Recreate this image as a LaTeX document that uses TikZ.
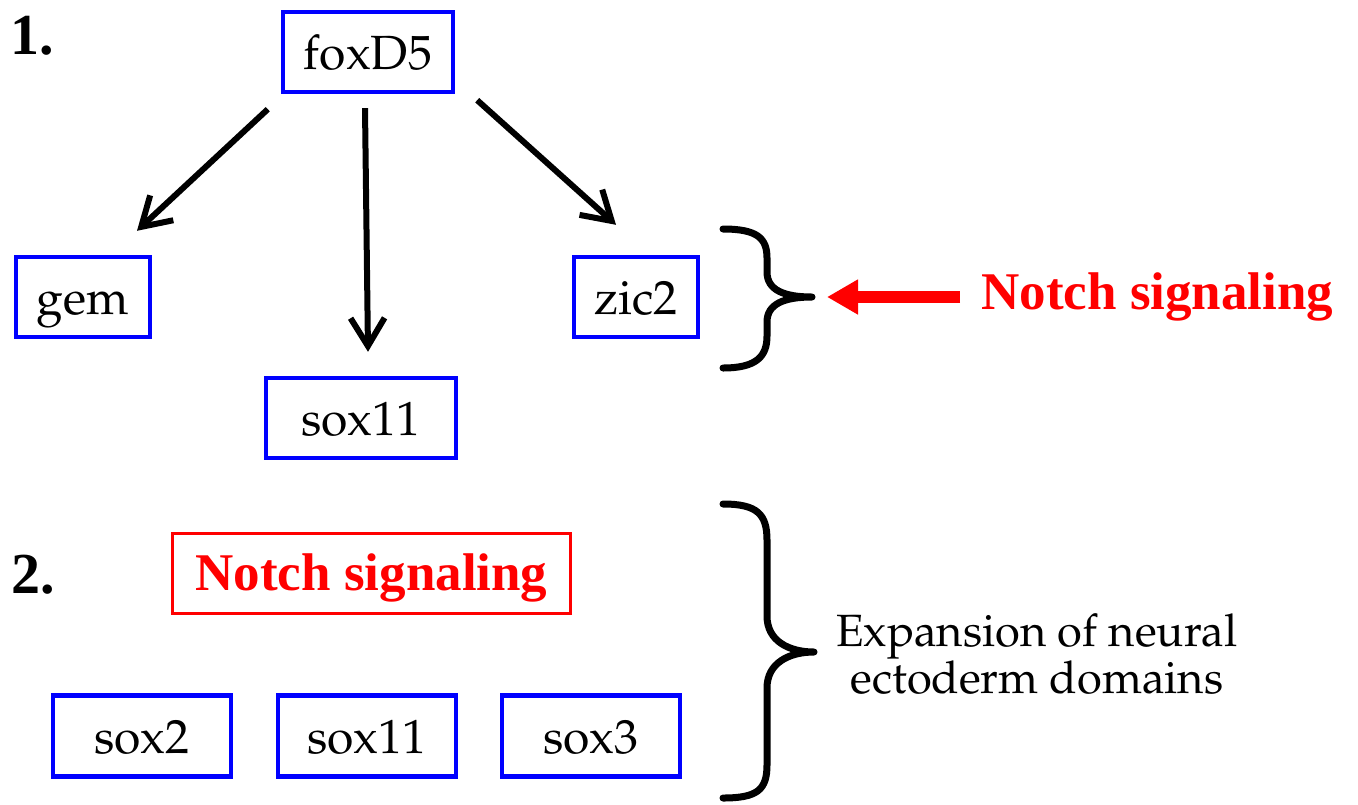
\documentclass[tikz,border=0pt]{standalone}
\usepackage[T1]{fontenc}
\usepackage{fontspec}
\usetikzlibrary{arrows.meta}
\newfontfamily\timesfont{Liberation Serif}
\newcommand\palfont{\fontencoding{T1}\fontfamily{ppl}\selectfont}
\definecolor{geneblue}{RGB}{0,0,255}
\definecolor{notchred}{RGB}{255,0,0}
\tikzset{
  gene/.style={draw=geneblue, line width=2.2pt, inner sep=0pt,
    text height=18pt, text depth=1pt,
    font=\palfont\fontsize{24}{28}\selectfont},
  notchbox/.style={draw=notchred, line width=1.6pt, inner sep=0pt, text=notchred,
    text height=18pt, text depth=1.5pt,
    font=\timesfont\bfseries\fontsize{26.5}{30}\selectfont},
  notchtext/.style={inner sep=0pt, text=notchred,
    font=\timesfont\bfseries\fontsize{26.5}{30}\selectfont},
  steplabel/.style={inner sep=0pt, font=\timesfont\bfseries\fontsize{29}{32}\selectfont},
  note/.style={inner sep=0pt, align=center, font=\palfont\fontsize{22.6}{23.5}\selectfont},
  regarrow/.style={line width=3pt, -{Straight Barb[length=14pt,width=17pt]}},
  notcharrow/.style={draw=notchred, line width=6pt, -{Triangle[length=15.5pt,width=16.5pt]}},
  curly/.style={line width=3.5pt, line cap=round, line join=round}
}
\begin{document}
\begin{tikzpicture}[x=0.5pt,y=-0.5pt]
  \useasboundingbox (0,0) rectangle (1358,804);

  % step 1: foxD5 and its targets
  \node[steplabel] (one) at (32,36) {1.};
  \node[gene, minimum width=85pt, minimum height=40pt] (fox) at (368,52) {foxD5};
  \node[gene, minimum width=67pt, minimum height=40pt] (gem) at (83,297) {gem};
  \node[gene, minimum width=62pt, minimum height=40pt] (zic) at (636,297) {zic2};
  \node[gene, minimum width=95pt, minimum height=40pt] (soxa) at (361,418) {sox11};

  \draw[regarrow] ([shift={(-13,15)}]fox.south west) -- ([shift={(54,-24)}]gem.north);
  \draw[regarrow] ([shift={(-3,14)}]fox.south) -- ([shift={(7,-24)}]soxa.north);
  \draw[regarrow] ([shift={(22,6)}]fox.south east) -- ([shift={(-20,-30)}]zic.north);

  % brace next to zic2 and the Notch input
  \coordinate (tipA) at (812,297);
  \draw[curly] (723,229) .. controls (757,229) and (767,238) .. (767,258) -- (767,272)
    .. controls (767,290) and (784,297) .. (tipA)
    .. controls (784,297) and (767,304) .. (767,322) -- (767,336)
    .. controls (767,356) and (757,368) .. (723,368);
  \node[notchtext, anchor=west] (notchA) at (981,297) {Notch signaling};
  \draw[notcharrow] ([xshift=-10.5pt]notchA.west) -- ([xshift=7.5pt]tipA);

  % step 2: Notch signaling and the sox genes
  \node[steplabel] (two) at (33,575) {2.};
  \node[notchbox, minimum width=199pt, minimum height=40pt] (notchB) at (371.5,573.5) {Notch signaling};
  \node[gene, minimum width=89pt, minimum height=40.5pt] (soxb) at (142,736) {sox2};
  \node[gene, minimum width=89pt, minimum height=40.5pt] (soxc) at (367,736) {sox11};
  \node[gene, minimum width=89pt, minimum height=40.5pt] (soxd) at (591,736) {sox3};

  \coordinate (tipB) at (814,652);
  \draw[curly] (723,504) .. controls (757,504) and (767,514) .. (767,540) -- (767,616)
    .. controls (767,641) and (789,652) .. (tipB)
    .. controls (789,652) and (767,663) .. (767,688) -- (767,765)
    .. controls (767,790) and (757,798) .. (723,798);
  \node[note] (expand) at (1037,654) {Expansion of neural\\ectoderm domains};
\end{tikzpicture}
\end{document}
